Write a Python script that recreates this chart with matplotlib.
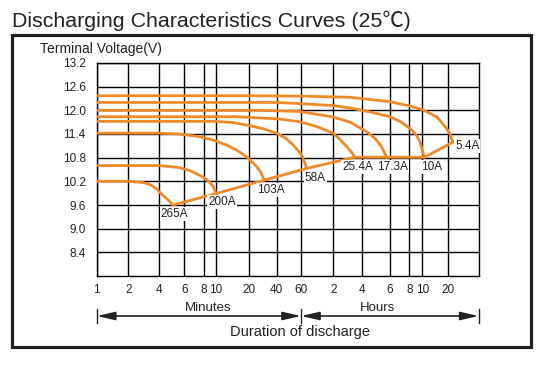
import numpy as np
import matplotlib
matplotlib.use('Agg')
import matplotlib.pyplot as plt
from matplotlib import transforms
from matplotlib.patches import Rectangle
from matplotlib.lines import Line2D
from matplotlib.ticker import NullLocator

plt.rcParams['font.family'] = ['Liberation Sans', 'Noto Sans CJK SC', 'DejaVu Sans']

# ---------------- data ----------------
# x-axis grid (duration of discharge, minutes) and its tick labels
grid_minutes = [1, 2, 4, 6, 8, 10, 20, 40, 60, 120, 240, 360, 480, 600, 1200, 2400]
tick_labels = ['1', '2', '4', '6', '8', '10', '20', '40', '60', '2', '4', '6', '8', '10', '20']
y_ticks = [8.4, 9.0, 9.6, 10.2, 10.8, 11.4, 12.0, 12.6, 13.2]

currents = ['265A', '200A', '103A', '58A', '25.4A', '17.3A', '10A', '5.4A']

t_265 = [1, 2, 2.76, 3.25, 3.72, 4.23, 4.61, 5.0]
v_265 = [10.2, 10.2, 10.17, 10.12, 10.02, 9.85, 9.73, 9.6]

t_200 = [1, 4, 5.53, 6.53, 7.13, 7.91, 8.85, 9.56, 10]
v_200 = [10.6, 10.6, 10.55, 10.47, 10.40, 10.31, 10.19, 10.06, 9.89]

t_103 = [1, 4, 5.6, 7.57, 9.64, 12.5, 15.5, 19.1, 24.3, 27.0, 29.3]
v_103 = [11.42, 11.42, 11.40, 11.33, 11.24, 11.12, 10.99, 10.82, 10.57, 10.42, 10.23]

t_58 = [1, 10, 14.3, 20.5, 29.9, 40, 46.7, 52.7, 61, 68]
v_58 = [11.72, 11.72, 11.69, 11.61, 11.52, 11.42, 11.29, 11.12, 10.87, 10.53]

t_25 = [1, 15, 20.5, 42, 59, 84, 120, 141, 165, 183, 201]
v_25 = [11.84, 11.84, 11.82, 11.78, 11.71, 11.59, 11.42, 11.26, 11.08, 10.96, 10.81]

t_17 = [1, 26, 59, 120, 179, 256, 290, 320, 345]
v_17 = [12.0, 12.0, 11.97, 11.83, 11.70, 11.46, 11.29, 11.08, 10.81]

t_10 = [1, 40, 59, 120, 179, 269, 361, 419, 486, 538, 577, 634]
v_10 = [12.2, 12.2, 12.17, 12.12, 12.06, 11.96, 11.84, 11.72, 11.54, 11.39, 11.20, 10.81]

t_5 = [1, 20, 59, 179, 361, 486, 617, 896, 1167, 1263, 1343]
v_5 = [12.37, 12.37, 12.36, 12.33, 12.22, 12.11, 12.01, 11.83, 11.54, 11.40, 11.19]

times = [t_265, t_200, t_103, t_58, t_25, t_17, t_10, t_5]
volts = [v_265, v_200, v_103, v_58, v_25, v_17, v_10, v_5]

# ---------------- styling / layout ----------------
W, H = 551, 371
ORANGE = '#EF8A2B'
# relative horizontal position of each grid column (hand-drawn semi-log axis)
scale_pos = [96.7, 128.3, 159.3, 184.3, 203.7, 216, 249, 276.7, 301, 333.3,
             362.3, 389.5, 409.3, 422.3, 447.7, 478.7]
label_offsets = [(1.5, -9), (6, -8.5), (6.5, -10), (8.5, -9.5),
                 (2.5, -9.5), (6, -9.5), (7.5, -9.5), (14.5, -3.5)]

logm = np.log10(np.array(grid_minutes, float))
posa = np.array(scale_pos, float)
s_lo = (posa[1] - posa[0]) / (logm[1] - logm[0])
s_hi = (posa[-1] - posa[-2]) / (logm[-1] - logm[-2])


def fwd(x):
    x = np.asarray(x, float)
    shp = x.shape
    lx = np.log10(np.clip(np.atleast_1d(x), 1e-9, None))
    out = np.interp(lx, logm, posa)
    lo = lx < logm[0]
    hi = lx > logm[-1]
    out[lo] = posa[0] + (lx[lo] - logm[0]) * s_lo
    out[hi] = posa[-1] + (lx[hi] - logm[-1]) * s_hi
    return out.reshape(shp)


def inv(p):
    p = np.asarray(p, float)
    shp = p.shape
    pa = np.atleast_1d(p)
    out = np.interp(pa, posa, logm)
    lo = pa < posa[0]
    hi = pa > posa[-1]
    out[lo] = logm[0] + (pa[lo] - posa[0]) / s_lo
    out[hi] = logm[-1] + (pa[hi] - posa[-1]) / s_hi
    return (10 ** out).reshape(shp)


fig = plt.figure(figsize=(W / 100, H / 100), dpi=100)
ax = fig.add_axes([96.7 / W, 1 - 276 / H, (478.7 - 96.7) / W, (276 - 63) / H])
ax.set_xscale('function', functions=(fwd, inv))
ax.set_xlim(grid_minutes[0], grid_minutes[-1])
ax.set_ylim(7.8, 13.2)

ax.set_xticks(grid_minutes[:-1])
ax.set_xticklabels(tick_labels)
ax.xaxis.set_minor_locator(NullLocator())
ax.set_yticks(y_ticks)
ax.set_yticklabels([f'{v:.1f}' for v in y_ticks])
ax.yaxis.set_minor_locator(NullLocator())
ax.tick_params(axis='both', length=0, labelsize=8.5, colors='#222222')
ax.tick_params(axis='y', pad=8)
ax.tick_params(axis='x', pad=6)
ax.set_axisbelow(True)
ax.grid(True, color='black', lw=1.0)
for s in ax.spines.values():
    s.set_color('black')
    s.set_linewidth(1.0)

# curves
for t, v in zip(times, volts):
    ax.plot(t, v, color=ORANGE, lw=2.0, solid_capstyle='round',
            solid_joinstyle='round', zorder=3)

# end-of-discharge line joining the curve ends
end_t = [t[-1] for t in times]
end_v = [v[-1] for v in volts]
ax.plot(end_t, end_v, color=ORANGE, lw=2.0, solid_joinstyle='miter', zorder=3)

# current labels
for name, et, ev, off in zip(currents, end_t, end_v, label_offsets):
    ax.annotate(name, xy=(et, ev), xytext=off, textcoords='offset pixels',
                ha='center', va='center', fontsize=8.5, color='#222222',
                bbox=dict(facecolor='white', edgecolor='none', pad=0.6),
                zorder=4)

# axis titles and decorations
fig.text(12 / W, 1 - 26.7 / H, 'Discharging Characteristics Curves (25℃)',
         fontsize=15.4, va='baseline', ha='left', color='#222222')
fig.text(40 / W, 1 - 53.3 / H, 'Terminal Voltage(V)', fontsize=10,
         va='baseline', ha='left', color='#222222')

btr = transforms.blended_transform_factory(ax.transData, fig.transFigure)
ax.text(8.7, 1 - 307.7 / H, 'Minutes', transform=btr, ha='center', va='center',
        fontsize=9.5, color='#222222')
ax.text(300, 1 - 307.7 / H, 'Hours', transform=btr, ha='center', va='center',
        fontsize=9.5, color='#222222')
ax.text(59, 1 - 331.7 / H, 'Duration of discharge', transform=btr, ha='center',
        va='center', fontsize=10.5, color='#222222')

yb = 1 - 316 / H
for a, b in [(grid_minutes[0], 60), (60, grid_minutes[-1])]:
    ax.annotate('', xy=(b, yb), xytext=(a, yb), xycoords=btr, textcoords=btr,
                arrowprops=dict(arrowstyle='<|-|>,head_length=1.1,head_width=0.25',
                                color='#222222', lw=1.2, shrinkA=0, shrinkB=0),
                annotation_clip=False)
for xv in [grid_minutes[0], 60, grid_minutes[-1]]:
    ax.add_line(Line2D([xv, xv], [1 - 309.3 / H, 1 - 323.3 / H], transform=btr,
                       color='#222222', lw=1.0, clip_on=False))

fig.patches.append(Rectangle((12 / W, 1 - 347 / H), (531 - 12) / W, (347 - 35) / H,
                             transform=fig.transFigure, fill=False,
                             edgecolor='#231f20', lw=2.3, zorder=0))

fig.savefig('out.png', dpi=100)
